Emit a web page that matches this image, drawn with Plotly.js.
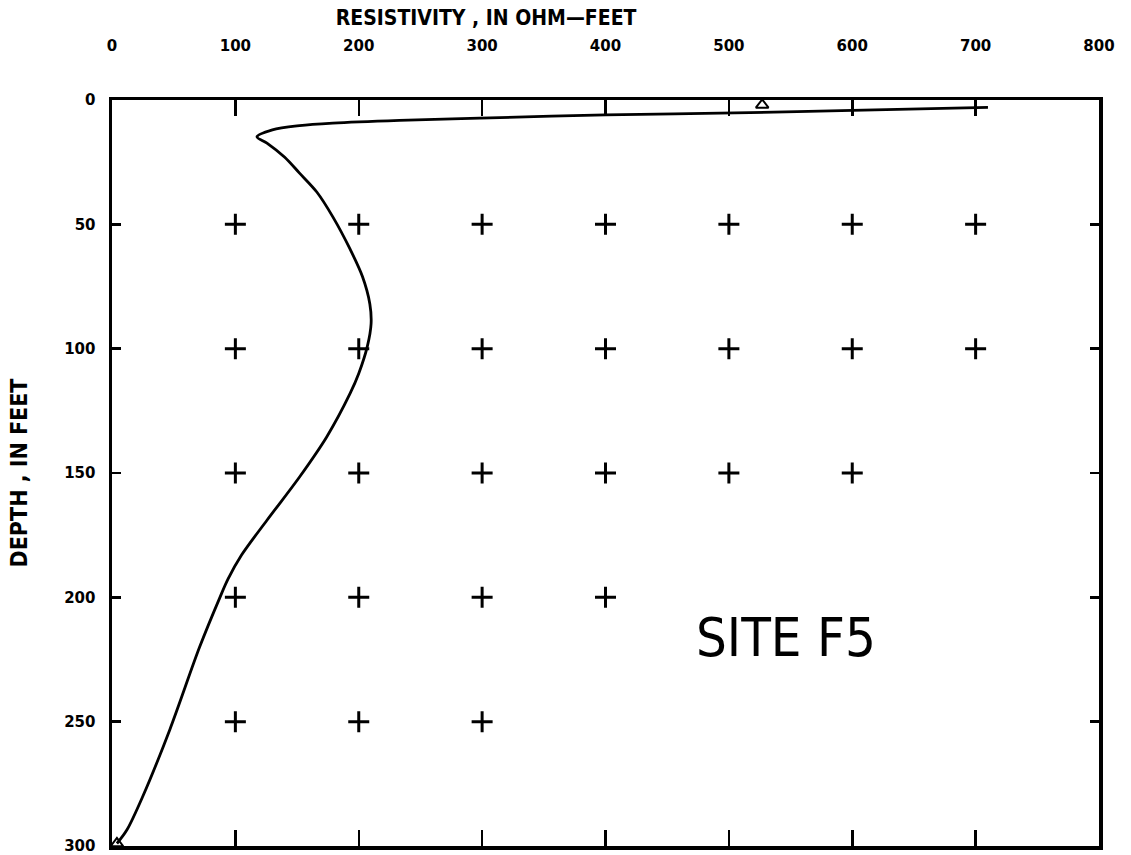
<!DOCTYPE html>
<html><head><meta charset="utf-8">
<script src="https://cdn.plot.ly/plotly-3.0.1.min.js"></script>
<style>html,body{margin:0;padding:0;background:#fff}#chart{width:1131px;height:855px}</style>
</head><body><div id="chart"></div>
<script>
// Resistivity curve (ohm-feet) vs depth (feet)
const curveResistivity = [710, 600, 517, 400, 298, 233, 179, 152, 130, 117.5, 125.6, 140, 152, 166, 179, 193, 203, 209, 210, 207, 200, 193, 174, 152, 125.6, 105, 94, 87.5, 71, 47, 25, 12, 4];
const curveDepth       = [3,   4.2, 5.1, 6,   7.3, 8.2, 9.3, 10.3, 12, 14.8, 17.3, 23, 29.4, 37, 47, 60, 71, 82, 90, 99, 110, 118, 135.5, 151.6, 169, 183, 192.7, 200, 220, 253, 280, 293.6, 299];

// Grid crosses
const crossResistivity = [100,200,300,400,500,600,700, 100,200,300,400,500,600,700, 100,200,300,400,500,600, 100,200,300,400, 100,200,300];
const crossDepth       = [50,50,50,50,50,50,50, 100,100,100,100,100,100,100, 150,150,150,150,150,150, 200,200,200,200, 250,250,250];

// Triangle markers
const triResistivity = [527, 4];
const triDepth = [2, 299];

const xTicks = [0,100,200,300,400,500,600,700,800];
const yTicks = [0,50,100,150,200,250,300];

const siteLabel = 'SITE F5';
const xTitle = 'RESISTIVITY , IN OHM\u2014FEET';
const yTitle = 'DEPTH , IN FEET';

const traces = [
  {x: crossResistivity, y: crossDepth, mode: 'markers', type: 'scatter',
   marker: {symbol: 'cross-thin', size: 15, color: '#000', line: {color: '#000', width: 3}},
   hoverinfo: 'skip', showlegend: false},
  {x: curveResistivity, y: curveDepth, mode: 'lines', type: 'scatter',
   line: {color: '#000', width: 2.8, shape: 'spline', smoothing: 0.9},
   showlegend: false},
  {x: triResistivity, y: triDepth, mode: 'markers', type: 'scatter',
   marker: {symbol: 'triangle-up-open', size: 11, color: '#000', line: {color: '#000', width: 2}},
   showlegend: false}
];

const tickFont = {family: 'DejaVu Sans, sans-serif', size: 15, color: '#000', weight: 'bold'};
const titleFontFamily = 'DejaVu Sans Condensed, DejaVu Sans, sans-serif';

const layout = {
  width: 1131, height: 855,
  paper_bgcolor: '#fff', plot_bgcolor: '#fff',
  margin: {l: 112, r: 32, t: 100, b: 9},
  title: {text: xTitle, x: 0.379, xref: 'paper', xanchor: 'center', y: 0.979, yref: 'container', yanchor: 'middle',
          font: {family: titleFontFamily, size: 21, color: '#000', weight: 'bold'}},
  xaxis: {
    side: 'top', range: [0, 800], tickvals: xTicks, ticktext: xTicks.map(String),
    ticks: 'inside', ticklen: 16, tickwidth: 2.5, tickcolor: '#000',
    showline: true, linewidth: 3.5, linecolor: '#000', mirror: 'allticks',
    showgrid: false, zeroline: false, tickfont: tickFont, ticklabelstandoff: 40,
    ticklabeloverflow: 'allow'
  },
  yaxis: {
    range: [300, 0], tickvals: yTicks, ticktext: yTicks.map(String),
    ticks: 'inside', ticklen: 9, tickwidth: 2.5, tickcolor: '#000',
    showline: true, linewidth: 3.5, linecolor: '#000', mirror: 'allticks',
    showgrid: false, zeroline: false, tickfont: tickFont, ticklabelstandoff: 10,
    ticklabeloverflow: 'allow',
    title: {text: yTitle, standoff: 31, font: {family: titleFontFamily, size: 23, color: '#000', weight: 'bold'}}
  },
  annotations: [
    {text: siteLabel, x: 546, y: 216, xref: 'x', yref: 'y', showarrow: false,
     font: {family: 'DejaVu Sans Condensed, sans-serif', size: 54, color: '#000'}}
  ]
};

Plotly.newPlot('chart', traces, layout, {displayModeBar: false, staticPlot: true});
</script></body></html>
